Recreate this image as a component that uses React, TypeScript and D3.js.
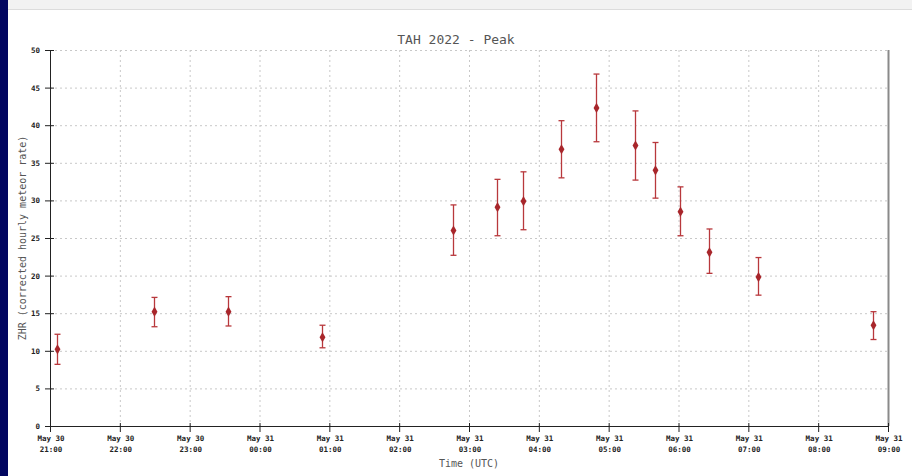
import React, { useEffect, useRef } from "react";
import * as d3 from "d3";

// observation times (UTC) and ZHR with error bounds
const times = [
	"2022-05-30T21:06Z",
	"2022-05-30T22:29Z",
	"2022-05-30T23:33Z",
	"2022-05-31T00:54Z",
	"2022-05-31T02:46Z",
	"2022-05-31T03:24Z",
	"2022-05-31T03:46Z",
	"2022-05-31T04:19Z",
	"2022-05-31T04:49Z",
	"2022-05-31T05:23Z",
	"2022-05-31T05:40Z",
	"2022-05-31T06:01Z",
	"2022-05-31T06:26Z",
	"2022-05-31T07:08Z",
	"2022-05-31T08:47Z",
];
const zhr = [10.2, 15.2, 15.2, 11.8, 26.0, 29.1, 29.9, 36.8, 42.3, 37.3, 34.0, 28.5, 23.1, 19.8, 13.4];
const zhrLow = [8.2, 13.2, 13.3, 10.4, 22.7, 25.3, 26.1, 33.0, 37.8, 32.7, 30.3, 25.3, 20.3, 17.4, 11.5];
const zhrHigh = [12.2, 17.1, 17.2, 13.4, 29.4, 32.8, 33.8, 40.6, 46.8, 41.9, 37.7, 31.8, 26.2, 22.4, 15.2];

const yTicks = [0, 5, 10, 15, 20, 25, 30, 35, 40, 45, 50];
const xDomain = ["2022-05-30T21:00Z", "2022-05-31T09:00Z"];

const title = "TAH 2022 - Peak";
const xTitle = "Time (UTC)";
const yTitle = "ZHR (corrected hourly meteor rate)";

export default function App() {
	const svgRef = useRef<SVGSVGElement>(null);

	useEffect(() => {
		if (!svgRef.current) return;
		const width = 912;
		const height = 476;
		const margin = { top: 50, right: 24, bottom: 50, left: 50 };
		const mono = "'DejaVu Sans Mono', monospace";

		const svg = d3.select(svgRef.current);
		svg.selectAll("*").remove();

		// page chrome
		svg.append("rect").attr("width", width).attr("height", height).attr("fill", "#fff");
		svg.append("rect").attr("width", width).attr("height", 9).attr("fill", "#f2f2f2");
		svg.append("line").attr("x1", 0).attr("x2", width).attr("y1", 9.5).attr("y2", 9.5).attr("stroke", "#dcdcdc");
		svg.append("rect").attr("width", 8).attr("height", height).attr("fill", "#020660");

		const x = d3
			.scaleUtc()
			.domain(xDomain.map((d) => new Date(d)))
			.range([margin.left, width - margin.right]);
		const y = d3
			.scaleLinear()
			.domain([0, 50])
			.range([height - margin.bottom, margin.top]);

		const hours = x.ticks(d3.utcHour.every(1) as d3.TimeInterval);
		const grid = svg.append("g").attr("stroke", "#c8c8c8").attr("stroke-dasharray", "2,3");
		grid
			.selectAll("line.v")
			.data(hours.slice(1, -1))
			.enter()
			.append("line")
			.attr("x1", (d) => x(d) + 0.5)
			.attr("x2", (d) => x(d) + 0.5)
			.attr("y1", y(50))
			.attr("y2", y(0));
		grid
			.selectAll("line.h")
			.data(yTicks.slice(1))
			.enter()
			.append("line")
			.attr("x1", x.range()[0])
			.attr("x2", x.range()[1])
			.attr("y1", (d) => y(d) + 0.5)
			.attr("y2", (d) => y(d) + 0.5);

		// right frame
		svg
			.append("line")
			.attr("x1", x.range()[1] + 0.5)
			.attr("x2", x.range()[1] + 0.5)
			.attr("y1", y(50))
			.attr("y2", y(0))
			.attr("stroke", "#8a8a8a")
			.attr("stroke-width", 2);

		// axes
		const axisColor = "#222";
		svg
			.append("line")
			.attr("x1", x.range()[0] + 0.5)
			.attr("x2", x.range()[0] + 0.5)
			.attr("y1", y(50))
			.attr("y2", y(0))
			.attr("stroke", axisColor);
		svg
			.append("line")
			.attr("x1", x.range()[0])
			.attr("x2", x.range()[1])
			.attr("y1", y(0) + 0.5)
			.attr("y2", y(0) + 0.5)
			.attr("stroke", axisColor);

		const yAxis = svg.append("g");
		yTicks.forEach((t) => {
			yAxis
				.append("line")
				.attr("x1", x.range()[0] - 5)
				.attr("x2", x.range()[0] + 4)
				.attr("y1", y(t) + 0.5)
				.attr("y2", y(t) + 0.5)
				.attr("stroke", axisColor);
			yAxis
				.append("text")
				.attr("x", x.range()[0] - 10)
				.attr("y", y(t) + 3)
				.attr("text-anchor", "end")
				.attr("font-family", mono)
				.attr("font-size", 7.5)
				.attr("font-weight", "bold")
				.attr("fill", "#222")
				.text(t);
		});

		const xAxis = svg.append("g");
		const fmtDay = d3.utcFormat("%b %d");
		const fmtHour = d3.utcFormat("%H:%M");
		hours.forEach((h) => {
			xAxis
				.append("line")
				.attr("x1", x(h) + 0.5)
				.attr("x2", x(h) + 0.5)
				.attr("y1", y(0) - 3)
				.attr("y2", y(0) + 6)
				.attr("stroke", axisColor);
			const lbl = xAxis
				.append("text")
				.attr("text-anchor", "middle")
				.attr("font-family", mono)
				.attr("font-size", 7.5)
				.attr("font-weight", "bold")
				.attr("fill", "#222");
			lbl.append("tspan").attr("x", x(h) + 1).attr("y", 440.5).text(fmtDay(h));
			lbl.append("tspan").attr("x", x(h) + 1).attr("y", 451.5).text(fmtHour(h));
		});

		// error bars
		const red = "#a8262b";
		const pts = times.map((t, i) => ({ t: new Date(t), v: zhr[i], lo: zhrLow[i], hi: zhrHigh[i] }));
		const bars = svg.append("g").attr("stroke", "#b8383c").attr("stroke-width", 1.3);
		pts.forEach((p) => {
			const cx = Math.round(x(p.t)) + 0.5;
			bars.append("line").attr("x1", cx).attr("x2", cx).attr("y1", y(p.hi)).attr("y2", y(p.lo));
			bars.append("line").attr("x1", cx - 3).attr("x2", cx + 3).attr("y1", y(p.hi)).attr("y2", y(p.hi));
			bars.append("line").attr("x1", cx - 3).attr("x2", cx + 3).attr("y1", y(p.lo)).attr("y2", y(p.lo));
		});

		const symbol = d3.symbol().type(d3.symbolDiamond).size(30);
		svg
			.append("g")
			.selectAll("path")
			.data(pts)
			.enter()
			.append("path")
			.attr("d", symbol)
			.attr("transform", (d) => `translate(${Math.round(x(d.t)) + 0.5},${y(d.v)})`)
			.attr("fill", red);

		// titles
		svg
			.append("text")
			.attr("x", 456)
			.attr("y", 44)
			.attr("text-anchor", "middle")
			.attr("font-family", mono)
			.attr("font-size", 13)
			.attr("fill", "#555")
			.text(title);
		svg
			.append("text")
			.attr("x", (x.range()[0] + x.range()[1]) / 2)
			.attr("y", 467)
			.attr("text-anchor", "middle")
			.attr("font-family", mono)
			.attr("font-size", 10)
			.attr("fill", "#555")
			.text(xTitle);
		svg
			.append("text")
			.attr("transform", `translate(26,${(y(0) + y(50)) / 2}) rotate(-90)`)
			.attr("text-anchor", "middle")
			.attr("font-family", mono)
			.attr("font-size", 10)
			.attr("fill", "#555")
			.text(yTitle);
	}, []);

	return (
		<div>
			<svg
				ref={svgRef}
				width={912}
				height={476}
				style={{ position: "absolute", left: 0, top: 0 }}
			></svg>
		</div>
	);
}
